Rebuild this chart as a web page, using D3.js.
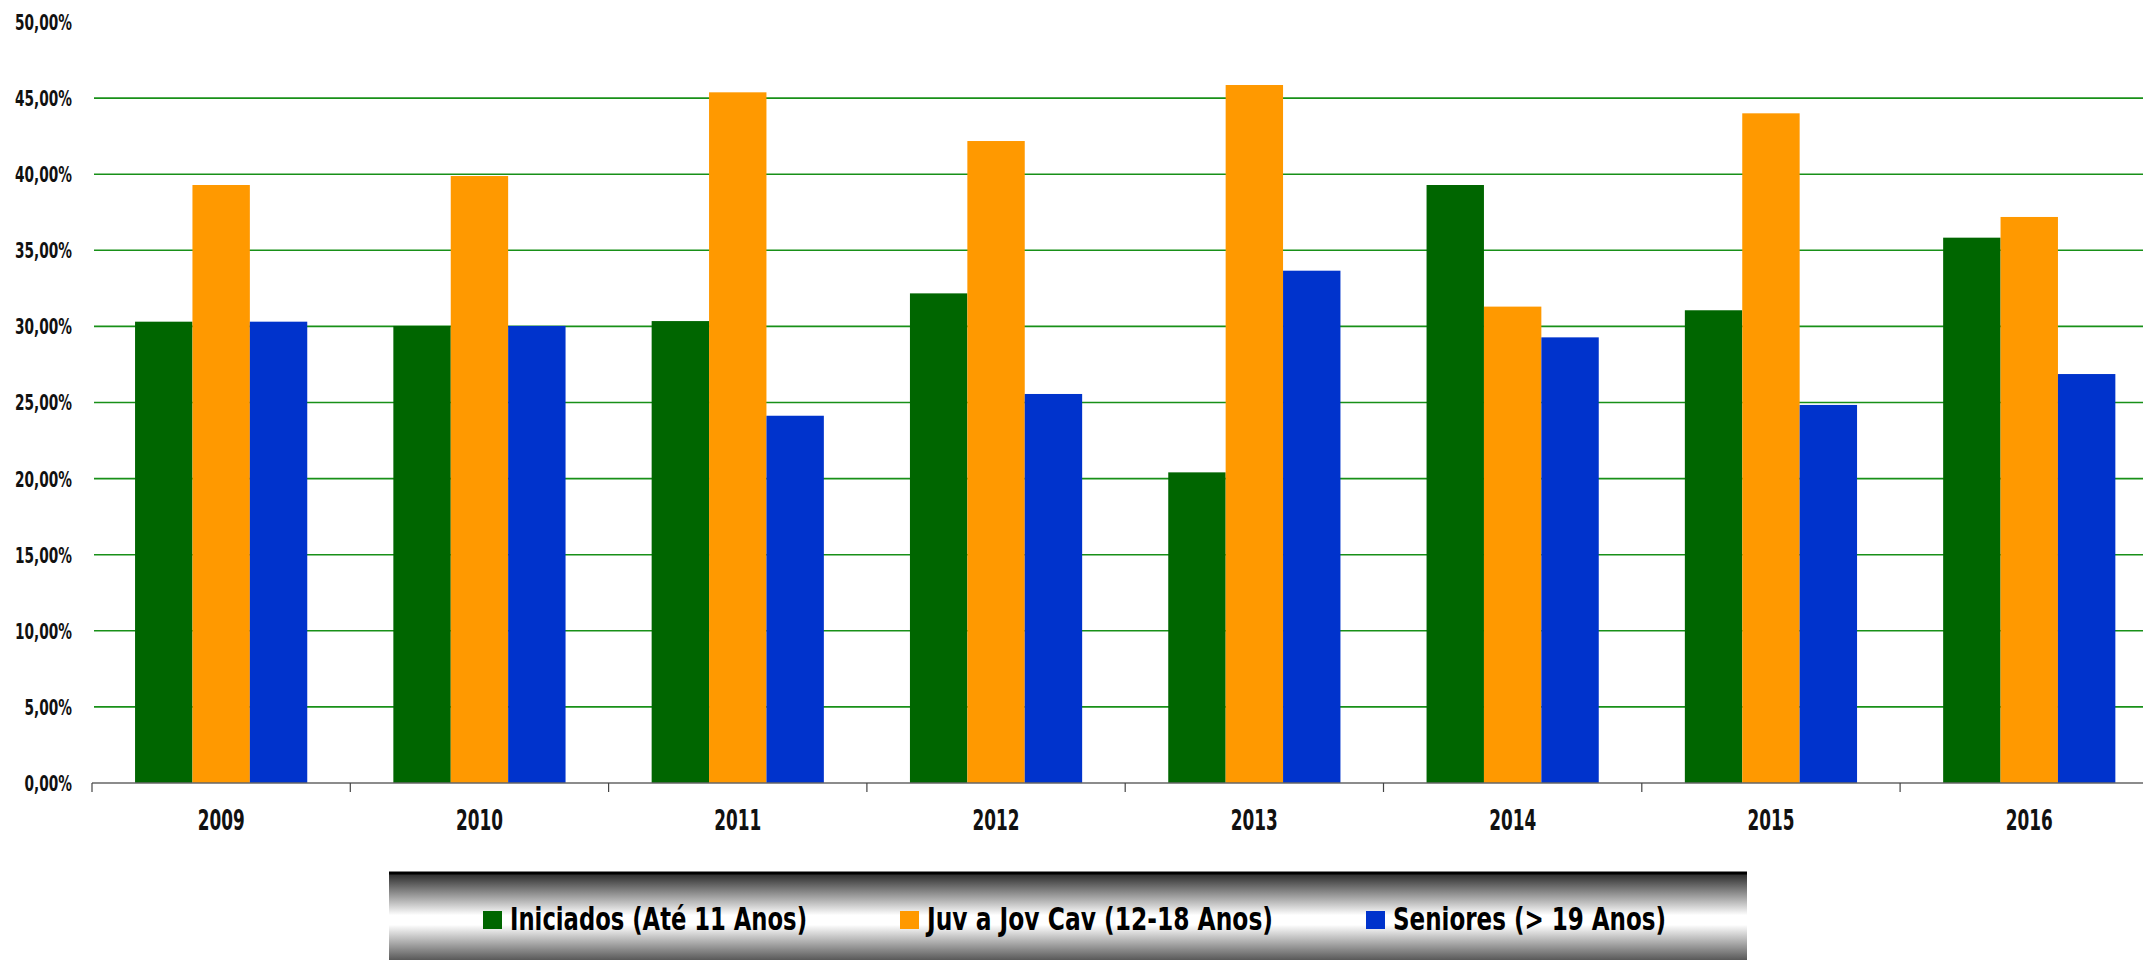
<!DOCTYPE html>
<html>
<head>
<meta charset="utf-8">
<script src="https://cdnjs.cloudflare.com/ajax/libs/d3/7.8.5/d3.min.js"></script>
<style>
  html, body { margin: 0; padding: 0; background: #fff; overflow: hidden; }
  text { font-family: "Liberation Sans Narrow", "DejaVu Sans Condensed", "Arial Narrow", sans-serif; font-weight: bold; }
</style>
</head>
<body>
<div id="chart"></div>
<script>
const years = ["2009", "2010", "2011", "2012", "2013", "2014", "2015", "2016"];
const iniciados = [30.31, 30.03, 30.35, 32.17, 20.41, 39.29, 31.06, 35.83];
const juvenis = [39.29, 39.88, 45.38, 42.18, 45.86, 31.30, 44.00, 37.19];
const seniores = [30.31, 30.03, 24.13, 25.56, 33.66, 29.28, 24.84, 26.87];
const seriesNames = ["Iniciados (Até 11 Anos)", "Juv a Jov Cav (12-18 Anos)", "Seniores (> 19 Anos)"];
const seriesColors = ["#006600", "#ff9900", "#0033cc"];
const yTicks = [0, 5, 10, 15, 20, 25, 30, 35, 40, 45, 50];

const W = 2143, H = 960;
const plotLeft = 92, step = 258.3, plotTop = 22, plotBottom = 783;

const svg = d3.select("#chart")
    .append("svg")
    .attr("width", W)
    .attr("height", H);

// the original font is a condensed face, so squeeze the fallback to the same width
function squeeze(sel, sample, target) {
    const probe = sel.filter(function () { return this.textContent === sample; }).node();
    const k = target / probe.getComputedTextLength();
    sel.each(function () {
        d3.select(this)
            .attr("textLength", this.getComputedTextLength() * k)
            .attr("lengthAdjust", "spacingAndGlyphs");
    });
}

const x = d3.scaleBand()
    .domain(years)
    .range([plotLeft, plotLeft + step * years.length])
    .paddingInner(1 / 3)
    .paddingOuter(1 / 6);

const xs = d3.scaleBand()
    .domain(d3.range(3))
    .range([0, x.bandwidth()]);

const y = d3.scaleLinear()
    .domain([0, 50])
    .range([plotBottom, plotTop]);

const fmt = v => d3.format(".2f")(v).replace(".", ",") + "%";

// gridlines
svg.append("g")
    .selectAll("line")
    .data(yTicks.filter(t => t > 0 && t < 50))
    .join("line")
    .attr("x1", plotLeft + 2)
    .attr("x2", W)
    .attr("y1", d => y(d))
    .attr("y2", d => y(d))
    .attr("stroke", "#189018")
    .attr("stroke-width", 1.6);

// y labels
const yLabels = svg.append("g")
    .selectAll("text")
    .data(yTicks)
    .join("text")
    .attr("x", 72)
    .attr("y", d => y(d))
    .attr("dy", "0.36em")
    .attr("text-anchor", "end")
    .style("font-size", "22px")
    .style("fill", "#111")
    .text(fmt);
squeeze(yLabels, "50,00%", 57);

// bars
const rows = years.map((yr, i) => ({ year: yr, vals: [iniciados[i], juvenis[i], seniores[i]] }));
svg.append("g")
    .selectAll("g")
    .data(rows)
    .join("g")
    .attr("transform", d => `translate(${x(d.year)},0)`)
    .selectAll("rect")
    .data(d => d.vals)
    .join("rect")
    .attr("x", (d, i) => xs(i))
    .attr("width", xs.bandwidth())
    .attr("y", d => y(d))
    .attr("height", d => y(0) - y(d))
    .attr("fill", (d, i) => seriesColors[i]);

// x axis
const xAxis = svg.append("g")
    .attr("transform", `translate(0,${plotBottom})`);
xAxis.append("line")
    .attr("x1", plotLeft)
    .attr("x2", W)
    .attr("stroke", "#666")
    .attr("stroke-width", 1.5);
xAxis.selectAll(".tick")
    .data(d3.range(years.length + 1))
    .join("line")
    .attr("class", "tick")
    .attr("x1", i => plotLeft + i * step)
    .attr("x2", i => plotLeft + i * step)
    .attr("y1", 0)
    .attr("y2", 9)
    .attr("stroke", "#444")
    .attr("stroke-width", 1.2);
const xLabels = xAxis.selectAll(".lbl")
    .data(years)
    .join("text")
    .attr("class", "lbl")
    .attr("x", d => x(d) + x.bandwidth() / 2)
    .attr("y", 47)
    .attr("text-anchor", "middle")
    .style("font-size", "28px")
    .style("fill", "#111")
    .text(d => d);
squeeze(xLabels, "2009", 47);

// legend
const defs = svg.append("defs");
const grad = defs.append("linearGradient")
    .attr("id", "legendGrad")
    .attr("x1", 0).attr("x2", 0).attr("y1", 0).attr("y2", 1);
[["0", "#222"], ["0.05", "#3a3a3a"], ["0.45", "#ffffff"], ["0.55", "#ffffff"], ["1", "#333"]]
    .forEach(s => grad.append("stop").attr("offset", s[0]).attr("stop-color", s[1]));

const legend = svg.append("g");
legend.append("rect")
    .attr("x", 389)
    .attr("y", 872)
    .attr("width", 1358)
    .attr("height", 96)
    .attr("fill", "url(#legendGrad)");
legend.append("line")
    .attr("x1", 389).attr("x2", 1747)
    .attr("y1", 873).attr("y2", 873)
    .attr("stroke", "#000")
    .attr("stroke-width", 3);

const legendX = [483, 900, 1366];
const legendW = [297, 346, 273];
const item = legend.selectAll(".item")
    .data(seriesNames)
    .join("g")
    .attr("class", "item")
    .attr("transform", (d, i) => `translate(${legendX[i]},0)`);
item.append("rect")
    .attr("x", 0)
    .attr("y", 911)
    .attr("width", 19)
    .attr("height", 18)
    .attr("fill", (d, i) => seriesColors[i]);
item.append("text")
    .attr("x", 27)
    .attr("y", 930)
    .attr("textLength", (d, i) => legendW[i])
    .attr("lengthAdjust", "spacingAndGlyphs")
    .style("font-size", "32px")
    .style("fill", "#000")
    .text(d => d);
</script>
</body>
</html>
